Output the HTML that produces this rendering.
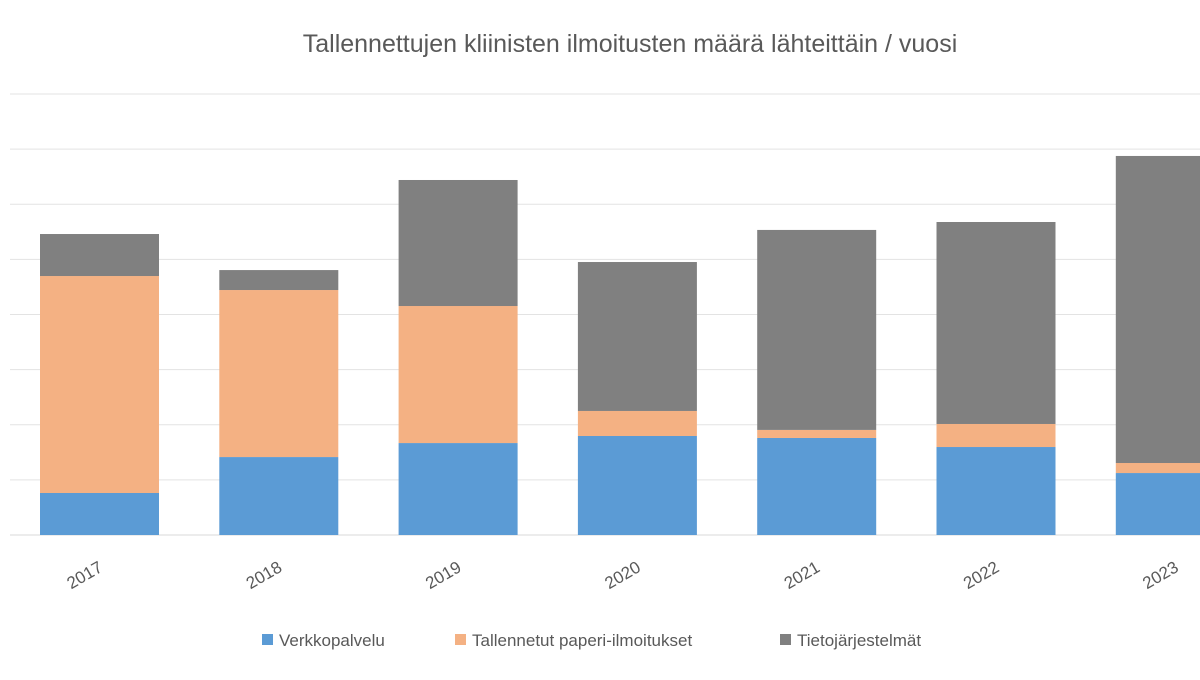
<!DOCTYPE html>
<html><head><meta charset="utf-8"><style>
html,body{margin:0;padding:0;background:#fff;}
body{width:1200px;height:675px;overflow:hidden;font-family:"Liberation Sans",sans-serif;}
</style></head><body>
<svg id="chart" width="1200" height="675" viewBox="0 0 1200 675" xmlns="http://www.w3.org/2000/svg">
<text x="630" y="52" text-anchor="middle" font-size="25" fill="#595959" font-family="Liberation Sans, sans-serif">Tallennettujen kliinisten ilmoitusten määrä lähteittäin / vuosi</text>
<g id="grid"></g>
<g id="bars"></g>
<g id="xlabels"></g>
<g id="legend"></g>
</svg>
<script>
const categories = ["2017","2018","2019","2020","2021","2022","2023"];
const verkkopalvelu = [381,707,834,898,880,798,562];
const paperi = [1968,1515,1243,227,73,209,91];
const tietojarjestelmat = [381,181,1143,1351,1814,1832,2785];
const gridTicks = [0,500,1000,1500,2000,2500,3000,3500,4000];
const seriesNames = ["Verkkopalvelu","Tallennetut paperi-ilmoitukset","Tietojärjestelmät"];
const seriesColors = ["#5b9bd5","#f4b183","#808080"];

const NS="http://www.w3.org/2000/svg";
const y0=535, yTop=94, vMax=4000;
function yScale(v){return y0-(v/vMax)*(y0-yTop);}
const step=179.3, firstCenter=99.5, barW=119;
function xCenter(i){return firstCenter+step*i;}

const grid=document.getElementById('grid');
gridTicks.forEach(t=>{
  const l=document.createElementNS(NS,'line');
  
  
  l.setAttribute('x1',10);l.setAttribute('x2',1200);
  l.setAttribute('y1',yScale(t));l.setAttribute('y2',yScale(t));
  l.setAttribute('stroke',t===0?'#d9d9d9':'#e3e3e3');l.setAttribute('stroke-width',1);
  grid.appendChild(l);
});

const bars=document.getElementById('bars');
const allSeries=[verkkopalvelu,paperi,tietojarjestelmat];
categories.forEach((c,i)=>{
  let acc=0;
  allSeries.forEach((s,k)=>{
    const yA=yScale(acc), yB=yScale(acc+s[i]);
    const r=document.createElementNS(NS,'rect');
    
    
    r.setAttribute('x',xCenter(i)-barW/2);r.setAttribute('width',barW);
    r.setAttribute('y',yB);r.setAttribute('height',yA-yB);
    r.setAttribute('fill',seriesColors[k]);
    bars.appendChild(r);
    acc+=s[i];
  });
});

const xl=document.getElementById('xlabels');
categories.forEach((c,i)=>{
  const t=document.createElementNS(NS,'text');
  
  
  const x=xCenter(i)-12, y=580;
  t.setAttribute('x',x);t.setAttribute('y',y);
  t.setAttribute('text-anchor','middle');
  t.setAttribute('font-size','17');t.setAttribute('fill','#595959');
  t.setAttribute('transform','rotate(-30 '+x+' '+y+')');
  t.textContent=c;
  xl.appendChild(t);
});

const lg=document.getElementById('legend');
const legendX=[262,455,780];
seriesNames.forEach((n,k)=>{
  const g=document.createElementNS(NS,'g');
  
  
  const r=document.createElementNS(NS,'rect');
  
  
  r.setAttribute('x',legendX[k]);r.setAttribute('y',634);
  r.setAttribute('width',11);r.setAttribute('height',11);
  r.setAttribute('fill',seriesColors[k]);
  const t=document.createElementNS(NS,'text');
  
  
  t.setAttribute('x',legendX[k]+17);t.setAttribute('y',646);
  t.setAttribute('font-size','17');t.setAttribute('fill','#595959');
  t.textContent=n;
  g.appendChild(r);g.appendChild(t);lg.appendChild(g);
});
</script>
</body></html>
